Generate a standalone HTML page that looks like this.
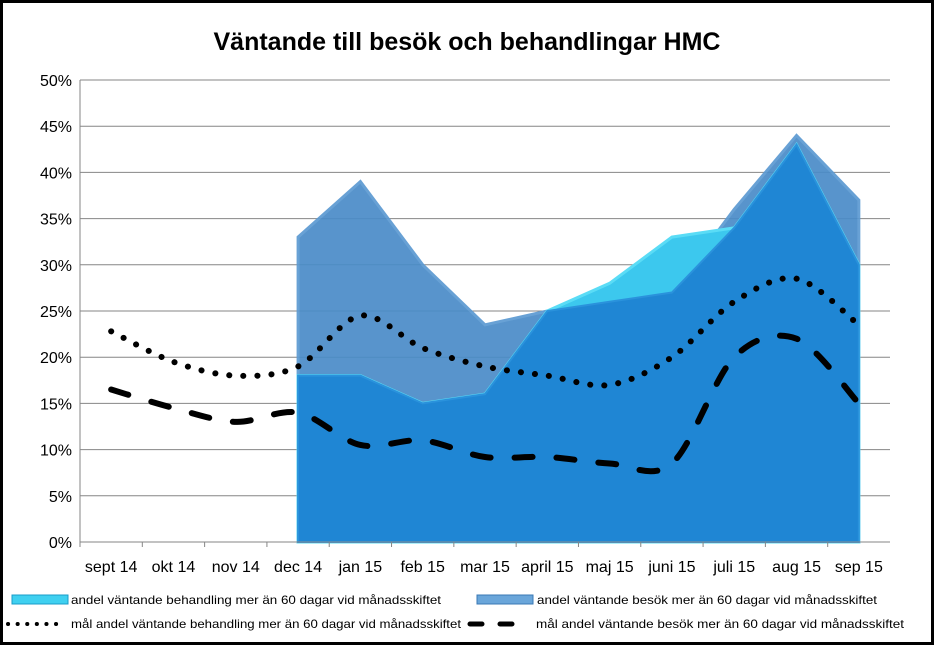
<!DOCTYPE html>
<html><head><meta charset="utf-8"><style>
body{margin:0;background:#fff}
svg{display:block;font-family:"Liberation Sans",sans-serif}
</style></head><body>
<svg id="c" width="934" height="645" xmlns="http://www.w3.org/2000/svg">
<rect x="1.5" y="1.5" width="931" height="642" fill="#fff" stroke="#000" stroke-width="3"/>
<text x="467" y="50" text-anchor="middle" font-size="25" font-weight="bold">Väntande till besök och behandlingar HMC</text>
<g id="grid"></g><g id="areas"></g><g id="lines"></g><g id="axes"></g>
<g font-size="12">
<rect x="12" y="595" width="56" height="9" fill="#3fd0f0" stroke="#1a9cc8"/>
<text x="71" y="604" textLength="370" lengthAdjust="spacingAndGlyphs">andel väntande behandling mer än 60 dagar vid månadsskiftet</text>
<rect x="477" y="595" width="56" height="9" fill="#6aa6da" stroke="#3a78b4"/>
<text x="537" y="604" textLength="340" lengthAdjust="spacingAndGlyphs">andel väntande besök mer än 60 dagar vid månadsskiftet</text>
<line x1="8" y1="624" x2="64" y2="624" stroke="#000" stroke-width="4" stroke-dasharray="0.1 9.5" stroke-linecap="round"/>
<text x="71" y="628" textLength="390" lengthAdjust="spacingAndGlyphs">mål andel väntande behandling mer än 60 dagar vid månadsskiftet</text>
<line x1="470" y1="624" x2="527" y2="624" stroke="#000" stroke-width="5" stroke-dasharray="12 18" stroke-linecap="round"/>
<text x="536" y="628" textLength="368" lengthAdjust="spacingAndGlyphs">mål andel  väntande besök mer än 60 dagar vid månadsskiftet</text>
</g>
</svg>
<script>
const categories=["sept 14","okt 14","nov 14","dec 14","jan 15","feb 15","mar 15","april 15","maj 15","juni 15","juli 15","aug 15","sep 15"];
const yTicks=[0,5,10,15,20,25,30,35,40,45,50];
const behandling=[null,null,null,18,18,15,16,25,28,33,34,43,30];
const besok=[null,null,null,33,39,30,23.5,25,26,27,36,44,37];
const malBehandling=[22.8,19.5,18,19,24.5,21,19,18,17,20,26,28.5,23.5];
const malBesok=[16.5,14.5,13,14,10.5,11,9.2,9.2,8.5,8.5,20,22,15];
const NS="http://www.w3.org/2000/svg";
const x0=80,x1=890,y0=542,y1=80;
const step=(x1-x0)/13;
const X=i=>x0+step*(i+0.5);
const Y=v=>y0-(v/50)*(y0-y1);
function mk(t,a,p){const e=document.createElementNS(NS,t);for(const k in a)e.setAttribute(k,a[k]);p.appendChild(e);return e;}
const grid=document.getElementById('grid'),axes=document.getElementById('axes'),areas=document.getElementById('areas'),lines=document.getElementById('lines');
yTicks.forEach(v=>{
 const l=mk('line',{x1:x0,x2:x1,y1:Y(v),y2:Y(v),stroke:'#868686','stroke-width':1},grid);
 
 
 const t=mk('text',{x:x0-8,y:Y(v)+6,'text-anchor':'end','font-size':16},axes);
 t.textContent=v+'%';
 
 
});
let al=mk('line',{x1:x0,x2:x0,y1:y1,y2:y0,stroke:'#868686'},axes);

al=mk('line',{x1:x0,x2:x1,y1:y0,y2:y0,stroke:'#868686'},axes);

categories.forEach((c,i)=>{
 const tk=mk('line',{x1:x0+step*i,x2:x0+step*i,y1:y0,y2:y0+5,stroke:'#868686'},axes);
 
 const t=mk('text',{x:X(i),y:572,'text-anchor':'middle','font-size':16},axes);
 t.textContent=c;
 
 
});
function areaPath(vals){
 const idx=vals.map((v,i)=>v==null?null:i).filter(i=>i!=null);
 let d='M'+X(idx[0])+','+Y(0);
 idx.forEach(i=>d+=' L'+X(i)+','+Y(vals[i]));
 d+=' L'+X(idx[idx.length-1])+','+Y(0)+'Z';return d;
}
let p=mk('path',{d:areaPath(besok),fill:'#4a8cc8',stroke:'#5c9ad2','stroke-width':3,opacity:0.92},areas);

p=mk('path',{d:areaPath(behandling),fill:'#3cc8ee',stroke:'#5adcf6','stroke-width':3},areas);

const minVals=behandling.map((v,i)=>v==null?null:Math.min(v,besok[i]));
p=mk('path',{d:areaPath(minVals),fill:'#1f86d4',stroke:'#2a92dc','stroke-width':2},areas);

function smooth(vals){
 const pts=vals.map((v,i)=>[X(i),Y(v)]);
 let d='M'+pts[0][0]+','+pts[0][1];
 for(let i=0;i<pts.length-1;i++){
  const p0=pts[Math.max(0,i-1)],p1=pts[i],p2=pts[i+1],p3=pts[Math.min(pts.length-1,i+2)];
  const t=0.16;
  d+=' C'+(p1[0]+(p2[0]-p0[0])*t)+','+(p1[1]+(p2[1]-p0[1])*t)+' '+(p2[0]-(p3[0]-p1[0])*t)+','+(p2[1]-(p3[1]-p1[1])*t)+' '+p2[0]+','+p2[1];
 }
 return d;
}
p=mk('path',{d:smooth(malBehandling),fill:'none',stroke:'#000','stroke-width':6,'stroke-linecap':'round','stroke-dasharray':'0.1 14'},lines);

p=mk('path',{d:smooth(malBesok),fill:'none',stroke:'#000','stroke-width':6,'stroke-linecap':'round','stroke-dasharray':'18 24'},lines);

</script>
</body></html>
